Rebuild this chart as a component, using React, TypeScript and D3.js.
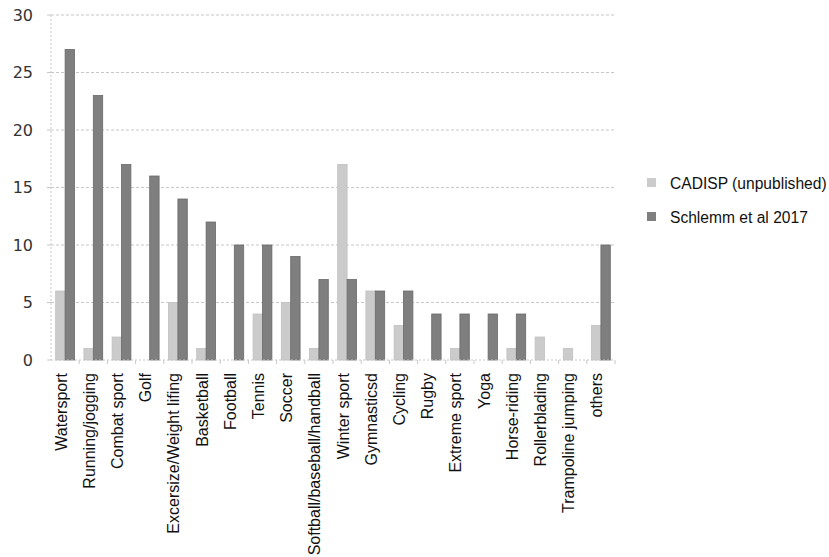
import * as d3 from "d3";
import React, { useEffect, useRef } from "react";

const categories = [
  "Watersport", "Running/jogging", "Combat sport", "Golf", "Excersize/Weight lifing",
  "Basketball", "Football", "Tennis", "Soccer", "Softball/baseball/handball",
  "Winter sport", "Gymnasticsd", "Cycling", "Rugby", "Extreme sport",
  "Yoga", "Horse-riding", "Rollerblading", "Trampoline jumping", "others",
];
const cadisp = [6, 1, 2, 0, 5, 1, 0, 4, 5, 1, 17, 6, 3, 0, 1, 0, 1, 2, 1, 3];
const schlemm = [27, 23, 17, 16, 14, 12, 10, 10, 9, 7, 7, 6, 6, 4, 4, 4, 4, 0, 0, 10];
const seriesNames = ["CADISP (unpublished)", "Schlemm et al 2017"];
const yTicks = [0, 5, 10, 15, 20, 25, 30];

const colors = ["#cbcbcb", "#7f7f7f"];
const strokes = ["#c0c0c0", "#6a6a6a"];

function drawChart(svgEl: SVGSVGElement) {
  const width = 829, height = 557;
  const margin = { top: 15, left: 51, right: 214, bottom: 197 };
  const svg = d3.select(svgEl);
  svg.selectAll("*").remove();
  svg.attr("width", width).attr("height", height);

  const x = d3.scaleBand().domain(categories).range([margin.left, width - margin.right]);
  const x1 = d3.scaleBand().domain(["0", "1"]).range([0, x.bandwidth()]).paddingInner(0).paddingOuter(0.5);
  const y = d3.scaleLinear().domain([0, 30]).range([height - margin.bottom, margin.top]);

  // grid
  svg.append("g")
    .selectAll("line")
    .data(yTicks.filter(t => t > 0))
    .join("line")
    .attr("x1", margin.left).attr("x2", width - margin.right)
    .attr("y1", d => y(d)).attr("y2", d => y(d))
    .attr("stroke", "#c8c8c8").attr("stroke-dasharray", "3,2");

  // y axis (dotted)
  svg.append("line")
    .attr("x1", margin.left).attr("x2", margin.left)
    .attr("y1", y(30)).attr("y2", y(0))
    .attr("stroke", "#c8c8c8").attr("stroke-dasharray", "2,2");
  svg.append("g")
    .selectAll("line")
    .data(yTicks)
    .join("line")
    .attr("x1", margin.left - 4).attr("x2", margin.left)
    .attr("y1", d => y(d)).attr("y2", d => y(d))
    .attr("stroke", "#c8c8c8");

  svg.append("g")
    .selectAll("text")
    .data(yTicks)
    .join("text")
    .attr("x", 33).attr("y", d => y(d))
    .attr("dy", "0.36em")
    .attr("text-anchor", "end")
    .style("font-family", "DejaVu Sans")
    .style("font-size", "16px")
    .attr("fill", "#333")
    .text(d => d);

  // bars
  const series = [cadisp, schlemm];
  series.forEach((vals, si) => {
    svg.append("g")
      .selectAll("rect")
      .data(vals.map((v, i) => ({ v, c: categories[i] })).filter(d => d.v > 0))
      .join("rect")
      .attr("x", d => (x(d.c) ?? 0) + (x1(String(si)) ?? 0))
      .attr("y", d => y(d.v))
      .attr("width", x1.bandwidth())
      .attr("height", d => y(0) - y(d.v))
      .attr("fill", colors[si])
      .attr("stroke", strokes[si])
      .attr("stroke-width", 0.8);
  });

  // x axis baseline (dotted) with ticks between categories
  svg.append("line")
    .attr("x1", margin.left).attr("x2", width - margin.right)
    .attr("y1", y(0)).attr("y2", y(0))
    .attr("stroke", "#c8c8c8").attr("stroke-dasharray", "2,2");
  svg.append("g")
    .selectAll("line")
    .data(categories)
    .join("line")
    .attr("x1", d => (x(d) ?? 0) + x.bandwidth())
    .attr("x2", d => (x(d) ?? 0) + x.bandwidth())
    .attr("y1", y(0)).attr("y2", y(0) + 4)
    .attr("stroke", "#c8c8c8");

  // x labels
  svg.append("g")
    .selectAll("text")
    .data(categories)
    .join("text")
    .attr("transform", d => `translate(${(x(d) ?? 0) + x.bandwidth() / 2 + 1.5},${y(0) + 13}) rotate(-90)`)
    .attr("text-anchor", "end")
    .style("font-family", "Liberation Sans")
    .style("font-size", "16px")
    .attr("fill", "#111")
    .text(d => d);

  // legend
  const legend = svg.append("g");
  seriesNames.forEach((name, i) => {
    const ly = 183 + i * 34;
    legend.append("rect")
      .attr("x", 647).attr("y", ly - 5)
      .attr("width", 9).attr("height", 9)
      .attr("fill", colors[i]);
    legend.append("text")
      .attr("x", 670).attr("y", ly)
      .attr("dy", "0.36em")
      .style("font-family", "Liberation Sans")
      .style("font-size", "15.6px")
      .attr("fill", "#111")
      .text(name);
  });
}

export default function App() {
  const ref = useRef<SVGSVGElement>(null);
  useEffect(() => {
    if (ref.current) drawChart(ref.current);
  }, []);
  return (
    <div style={{ position: "absolute", left: 0, top: 0, background: "#fff" }}>
      <svg ref={ref} style={{ display: "block" }} />
    </div>
  );
}
